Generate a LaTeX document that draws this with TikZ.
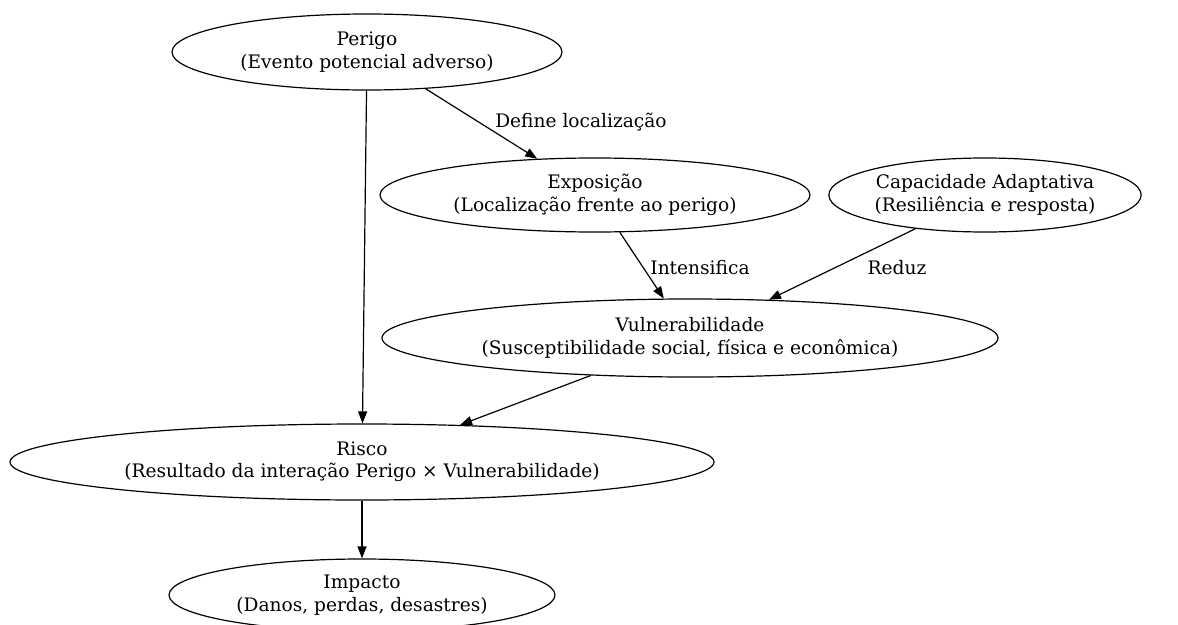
\documentclass[tikz,border=0pt]{standalone}
\usepackage{fontspec}
\setmainfont{DejaVu Serif}
\usetikzlibrary{shapes.geometric,arrows.meta}

\begin{document}
\begin{tikzpicture}[x=1pt,y=-1pt,line width=1.2pt,
    every node/.style={font=\fontsize{18.6}{22.4}\selectfont},
    conc/.style={draw,ellipse,inner sep=0pt,align=center},
    lbl/.style={inner sep=0pt}]
      \useasboundingbox (0,0) rectangle (1178,624);
      \draw
        (367,52) node[conc,minimum width=390,minimum height=76] (perigo){Perigo\\(Evento potencial adverso)}
        (595,195) node[conc,minimum width=430,minimum height=74] (expo){Exposição\\(Localização frente ao perigo)}
        (985,195) node[conc,minimum width=300,minimum height=74] (capad){Capacidade Adaptativa\\(Resiliência e resposta)}
        (690,338) node[conc,minimum width=616,minimum height=78] (vuln){Vulnerabilidade\\(Susceptibilidade social, física e econômica)}
        (362,462) node[conc,minimum width=704,minimum height=76] (risco){Risco\\(Resultado da interação Perigo × Vulnerabilidade)}
        (362,595) node[conc,minimum width=386,minimum height=72] (impacto){Impacto\\(Danos, perdas, desastres)}
        (581,122) node[lbl] (lbldefine){Define localização}
        (700,268) node[lbl] (lblintens){Intensifica}
        (897,268) node[lbl] (lblreduz){Reduz};
      \begin{scope}[-{Triangle[length=12pt,width=9pt]}]
        \draw (perigo) to (expo);
        \draw (perigo) to (risco);
        \draw (expo) to (vuln);
        \draw (capad) to (vuln);
        \draw (vuln) to (risco);
        \draw (risco) to (impacto);
      \end{scope}
    \end{tikzpicture}
\end{document}
